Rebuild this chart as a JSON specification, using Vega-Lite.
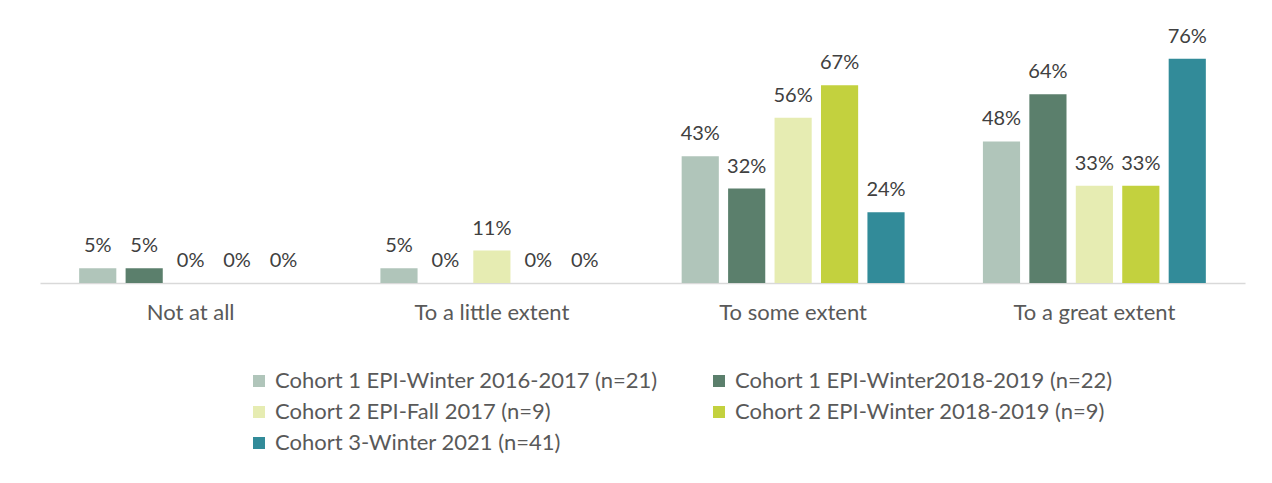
{
  "$schema": "https://vega.github.io/schema/vega-lite/v6.json",
  "width": 1205,
  "height": 236,
  "padding": {"left": 40, "top": 26, "right": 5, "bottom": 5},
  "data": {
    "values": [
      {"response": "Not at all", "cohort": "Cohort 1 EPI-Winter 2016-2017 (n=21)", "value": 0.05},
      {"response": "Not at all", "cohort": "Cohort 1 EPI-Winter2018-2019 (n=22)", "value": 0.05},
      {"response": "Not at all", "cohort": "Cohort 2 EPI-Fall 2017 (n=9)", "value": 0},
      {"response": "Not at all", "cohort": "Cohort 2 EPI-Winter 2018-2019 (n=9)", "value": 0},
      {"response": "Not at all", "cohort": "Cohort 3-Winter 2021 (n=41)", "value": 0},
      {"response": "To a little extent", "cohort": "Cohort 1 EPI-Winter 2016-2017 (n=21)", "value": 0.05},
      {"response": "To a little extent", "cohort": "Cohort 1 EPI-Winter2018-2019 (n=22)", "value": 0},
      {"response": "To a little extent", "cohort": "Cohort 2 EPI-Fall 2017 (n=9)", "value": 0.11},
      {"response": "To a little extent", "cohort": "Cohort 2 EPI-Winter 2018-2019 (n=9)", "value": 0},
      {"response": "To a little extent", "cohort": "Cohort 3-Winter 2021 (n=41)", "value": 0},
      {"response": "To some extent", "cohort": "Cohort 1 EPI-Winter 2016-2017 (n=21)", "value": 0.43},
      {"response": "To some extent", "cohort": "Cohort 1 EPI-Winter2018-2019 (n=22)", "value": 0.32},
      {"response": "To some extent", "cohort": "Cohort 2 EPI-Fall 2017 (n=9)", "value": 0.56},
      {"response": "To some extent", "cohort": "Cohort 2 EPI-Winter 2018-2019 (n=9)", "value": 0.67},
      {"response": "To some extent", "cohort": "Cohort 3-Winter 2021 (n=41)", "value": 0.24},
      {"response": "To a great extent", "cohort": "Cohort 1 EPI-Winter 2016-2017 (n=21)", "value": 0.48},
      {"response": "To a great extent", "cohort": "Cohort 1 EPI-Winter2018-2019 (n=22)", "value": 0.64},
      {"response": "To a great extent", "cohort": "Cohort 2 EPI-Fall 2017 (n=9)", "value": 0.33},
      {"response": "To a great extent", "cohort": "Cohort 2 EPI-Winter 2018-2019 (n=9)", "value": 0.33},
      {"response": "To a great extent", "cohort": "Cohort 3-Winter 2021 (n=41)", "value": 0.76}
    ]
  },
  "encoding": {
    "x": {
      "field": "response",
      "type": "nominal",
      "sort": ["Not at all", "To a little extent", "To some extent", "To a great extent"],
      "scale": {"paddingInner": 0.26, "paddingOuter": 0.13},
      "axis": {
        "title": null,
        "labelAngle": 0,
        "ticks": false,
        "domainColor": "#d9d9d9",
        "domainWidth": 1.5,
        "labelFont": "Lato",
        "labelFontSize": 22,
        "labelColor": "#595959",
        "labelPadding": 19
      }
    },
    "xOffset": {
      "field": "cohort",
      "type": "nominal",
      "sort": [
        "Cohort 1 EPI-Winter 2016-2017 (n=21)",
        "Cohort 1 EPI-Winter2018-2019 (n=22)",
        "Cohort 2 EPI-Fall 2017 (n=9)",
        "Cohort 2 EPI-Winter 2018-2019 (n=9)",
        "Cohort 3-Winter 2021 (n=41)"
      ],
      "scale": {"paddingInner": 0.2}
    },
    "y": {
      "field": "value",
      "type": "quantitative",
      "scale": {"domain": [0, 0.8]},
      "axis": null
    }
  },
  "layer": [
    {
      "mark": {"type": "bar"},
      "encoding": {
        "color": {
          "field": "cohort",
          "type": "nominal",
          "scale": {
            "domain": [
              "Cohort 1 EPI-Winter 2016-2017 (n=21)",
              "Cohort 1 EPI-Winter2018-2019 (n=22)",
              "Cohort 2 EPI-Fall 2017 (n=9)",
              "Cohort 2 EPI-Winter 2018-2019 (n=9)",
              "Cohort 3-Winter 2021 (n=41)"
            ],
            "range": ["#b0c5ba", "#5b7f6c", "#e6ecb2", "#c3d13e", "#328b99"]
          },
          "legend": {
            "title": null,
            "orient": "none",
            "direction": "horizontal",
            "legendX": 208,
            "legendY": 323,
            "columns": 2,
            "columnPadding": 50,
            "rowPadding": 9,
            "symbolType": "square",
            "symbolSize": 144,
            "symbolStrokeWidth": 0,
            "labelFont": "Lato",
            "labelFontSize": 22,
            "labelColor": "#595959",
            "labelLimit": 600,
            "labelOffset": 5,
            "padding": 0
          }
        }
      }
    },
    {
      "mark": {
        "type": "text",
        "baseline": "alphabetic",
        "dy": -16,
        "font": "Lato",
        "fontSize": 20,
        "color": "#404040"
      },
      "encoding": {
        "text": {"field": "value", "type": "quantitative", "format": ".0%"}
      }
    }
  ],
  "config": {
    "view": {"stroke": null},
    "background": "white"
  }
}
